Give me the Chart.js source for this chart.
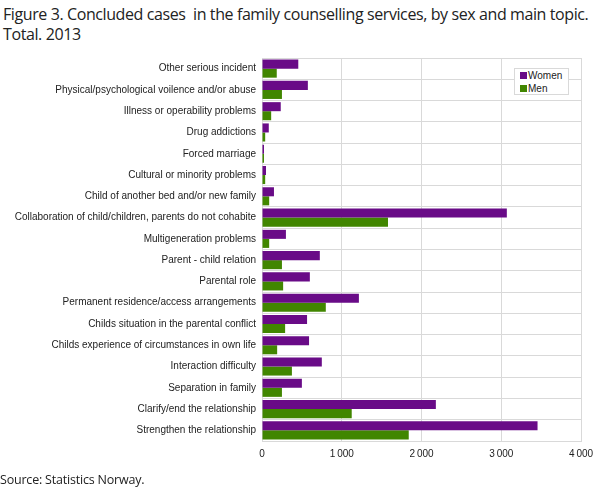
<!DOCTYPE html>
<html>
<head>
<meta charset="utf-8">
<script src="https://cdn.jsdelivr.net/npm/chart.js@4/dist/chart.umd.min.js"></script>
<style>
  body { margin: 0; background: #fff; }
  #wrap { position: relative; width: 608px; height: 488px; overflow: hidden; }
  #title { position: absolute; left: 3px; top: 4px; font-family: "Open Sans", sans-serif; font-size: 16px; letter-spacing: -0.4px; line-height: 20px; color: #222; white-space: nowrap; }
  #source { position: absolute; left: 0px; top: 471px; font-family: "Open Sans", sans-serif; font-size: 12.5px; letter-spacing: -0.2px; color: #222; }
  #legend { position: absolute; left: 514px; top: 68px; width: 53px; height: 25px; border: 1px solid #d9d9d9; background: #fff;
            font-family: "Liberation Sans", Arial, sans-serif; font-size: 10px; color: #222; }
  #legend div { height: 12px; line-height: 12px; padding-left: 5px; margin-top: 1px; }
  #legend span { display: inline-block; width: 7px; height: 7px; margin-right: 1px; vertical-align: 0px; }
  canvas { position: absolute; left: 0; top: 0; }
</style>
</head>
<body>
<div id="wrap">
  <div id="title">Figure 3. Concluded cases &nbsp;in the family counselling services, by sex and main topic.<br>Total. 2013</div>
  <canvas id="chart" width="608" height="488"></canvas>
  <div id="legend"></div>
  <div id="source">Source: Statistics Norway.</div>
</div>
<script>
let topics = [
    "Other serious incident",
    "Physical/psychological voilence and/or abuse",
    "Illness or operability problems",
    "Drug addictions",
    "Forced marriage",
    "Cultural or minority problems",
    "Child of another bed and/or new family",
    "Collaboration of child/children, parents do not cohabite",
    "Multigeneration problems",
    "Parent - child relation",
    "Parental role",
    "Permanent residence/access arrangements",
    "Childs situation in the parental conflict",
    "Childs experience of circumstances in own life",
    "Interaction difficulty",
    "Separation in family",
    "Clarify/end the relationship",
    "Strengthen the relationship"
];
let women = [455, 575, 235, 85, 25, 50, 150, 3070, 300, 725, 600, 1215, 565, 590, 750, 500, 2180, 3455];
let men = [185, 250, 115, 40, 25, 40, 90, 1580, 90, 250, 265, 800, 290, 190, 375, 250, 1125, 1840];
let xTicks = [0, 1000, 2000, 3000, 4000];

let purple = "#690b87";
let green = "#418600";
let gridColor = "#d9d9d9";

let ctx = document.getElementById("chart").getContext("2d");

let chart = new Chart(ctx, {
    type: "bar",
    data: {
        labels: topics,
        datasets: [
            { label: "Women", data: women, backgroundColor: purple, categoryPercentage: 0.85, barPercentage: 1.0 },
            { label: "Men", data: men, backgroundColor: green, categoryPercentage: 0.85, barPercentage: 1.0 }
        ]
    },
    options: {
        indexAxis: "y",
        responsive: false,
        animation: false,
        layout: { padding: { top: 58, bottom: 27, right: 27, left: 0 } },
        plugins: {
            legend: { display: false },
            tooltip: { enabled: false }
        },
        scales: {
            x: {
                min: 0,
                max: 4000,
                afterBuildTicks: scale => { scale.ticks = xTicks.map(v => ({ value: v })); },
                afterFit: scale => { scale.height = 20; },
                grid: { color: gridColor, drawTicks: false, lineWidth: 1 },
                border: { color: gridColor },
                ticks: {
                    padding: 7,
                    color: "#222",
                    font: { family: "Liberation Sans", size: 10 },
                    callback: v => String(v).replace(/\B(?=(\d{3})+(?!\d))/g, "\u2009")
                }
            },
            y: {
                afterFit: scale => { scale.width = 262; },
                grid: { color: gridColor, drawTicks: false, offset: true },
                border: { color: gridColor },
                ticks: {
                    padding: 6,
                    color: "#222",
                    autoSkip: false,
                    font: { family: "Liberation Sans", size: 10 }
                }
            }
        }
    }
});

document.getElementById("legend").innerHTML = chart.data.datasets
    .map(ds => '<div><span style="background:' + ds.backgroundColor + '"></span>' + ds.label + '</div>')
    .join("");
</script>
</body>
</html>
